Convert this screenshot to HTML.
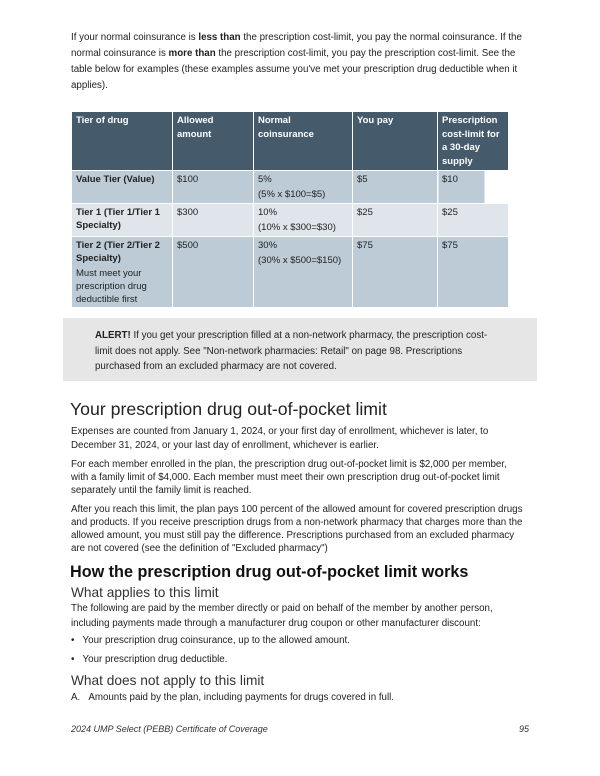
<!DOCTYPE html>
<html><head><meta charset="utf-8"><style>
body{margin:0;width:600px;height:776px;background:#fff;position:relative;font-family:"Liberation Sans",sans-serif;color:#222;overflow:hidden}
.l{position:absolute;left:71px;font-size:9.75px;white-space:nowrap;line-height:14px}
table{position:absolute;left:71px;top:111px;border-collapse:collapse;font-size:9.5px;table-layout:fixed;width:437px}
td{vertical-align:top;padding:2px 4px 0 4px;border:1px solid #fff;line-height:13px;overflow:hidden}
th{background:#455a6b;color:#fff;text-align:left;vertical-align:top;padding:2px 4px 0 4px;font-size:9.5px;line-height:13.5px;border:1px solid #fff;overflow:hidden}
.a td{background:#bccbd6}.b td{background:#dfe5ea}
.h1{position:absolute;left:70px;top:399px;font-size:17.7px;color:#222;white-space:nowrap}
.h2{position:absolute;left:70px;top:563px;font-size:16.2px;font-weight:bold;white-space:nowrap;color:#111}
.h3{position:absolute;left:71px;top:585px;font-size:13.7px;white-space:nowrap;color:#333}
</style></head><body>
<div class="l" style="top:31px">If your normal coinsurance is <b>less than</b> the prescription cost-limit, you pay the normal coinsurance. If the</div>
<div class="l" style="top:47px">normal coinsurance is <b>more than</b> the prescription cost-limit, you pay the prescription cost-limit. See the</div>
<div class="l" style="top:63px">table below for examples (these examples assume you've met your prescription drug deductible when it</div>
<div class="l" style="top:79px">applies).</div>
<table>
<colgroup><col style="width:101px"><col style="width:81px"><col style="width:99px"><col style="width:85px"><col style="width:71px"></colgroup>
<tr style="height:59px"><th>Tier of drug</th><th>Allowed amount</th><th>Normal coinsurance</th><th>You pay</th><th>Prescription cost-limit for a 30-day supply</th></tr>
<tr class="a" style="height:33px"><td><b>Value Tier (Value)</b></td><td>$100</td><td>5%<br><span style="line-height:17px">(5% x $100=$5)</span></td><td>$5</td><td style="background:linear-gradient(90deg,#bccbd6 46px,#fff 46px)">$10</td></tr>
<tr class="b" style="height:32px"><td><b>Tier 1 (Tier 1/Tier 1 Specialty)</b></td><td>$300</td><td>10%<br><span style="line-height:17px">(10% x $300=$30)</span></td><td>$25</td><td>$25</td></tr>
<tr class="a" style="height:71px"><td><b>Tier 2 (Tier 2/Tier 2 Specialty)</b><div style="margin-top:2px;line-height:13px">Must meet your prescription drug deductible first</div></td><td>$500</td><td>30%<br><span style="line-height:17px">(30% x $500=$150)</span></td><td>$75</td><td>$75</td></tr>
</table>
<div style="position:absolute;left:63px;top:318px;width:474px;height:63px;background:#e6e6e6"></div>
<div class="l" style="left:95px;top:329px"><b>ALERT!</b> If you get your prescription filled at a non-network pharmacy, the prescription cost-</div>
<div class="l" style="left:95px;top:345px">limit does not apply. See "Non-network pharmacies: Retail" on page 98. Prescriptions</div>
<div class="l" style="left:95px;top:360px">purchased from an excluded pharmacy are not covered.</div>
<div class="h1">Your prescription drug out-of-pocket limit</div>
<div class="l" style="top:425px">Expenses are counted from January 1, 2024, or your first day of enrollment, whichever is later, to</div>
<div class="l" style="top:439px">December 31, 2024, or your last day of enrollment, whichever is earlier.</div>
<div class="l" style="top:458px">For each member enrolled in the plan, the prescription drug out-of-pocket limit is $2,000 per member,</div>
<div class="l" style="top:471px">with a family limit of $4,000. Each member must meet their own prescription drug out-of-pocket limit</div>
<div class="l" style="top:484px">separately until the family limit is reached.</div>
<div class="l" style="top:503px">After you reach this limit, the plan pays 100 percent of the allowed amount for covered prescription drugs</div>
<div class="l" style="top:516px">and products. If you receive prescription drugs from a non-network pharmacy that charges more than the</div>
<div class="l" style="top:529px">allowed amount, you must still pay the difference. Prescriptions purchased from an excluded pharmacy</div>
<div class="l" style="top:542px">are not covered (see the definition of "Excluded pharmacy")</div>
<div class="h2">How the prescription drug out-of-pocket limit works</div>
<div class="h3">What applies to this limit</div>
<div class="l" style="top:602px">The following are paid by the member directly or paid on behalf of the member by another person,</div>
<div class="l" style="top:617px">including payments made through a manufacturer drug coupon or other manufacturer discount:</div>
<div class="l" style="top:634px">•&nbsp;&nbsp;&nbsp;Your prescription drug coinsurance, up to the allowed amount.</div>
<div class="l" style="top:653px">•&nbsp;&nbsp;&nbsp;Your prescription drug deductible.</div>
<div class="h3" style="top:673px">What does not apply to this limit</div>
<div class="l" style="top:691px">A.&nbsp;&nbsp;&nbsp;Amounts paid by the plan, including payments for drugs covered in full.</div>
<div class="l" style="top:722px;font-style:italic;color:#333;font-size:9px">2024 UMP Select (PEBB) Certificate of Coverage</div>
<div class="l" style="top:722px;left:519px;font-style:italic;color:#333;font-size:9px">95</div>
</body></html>
